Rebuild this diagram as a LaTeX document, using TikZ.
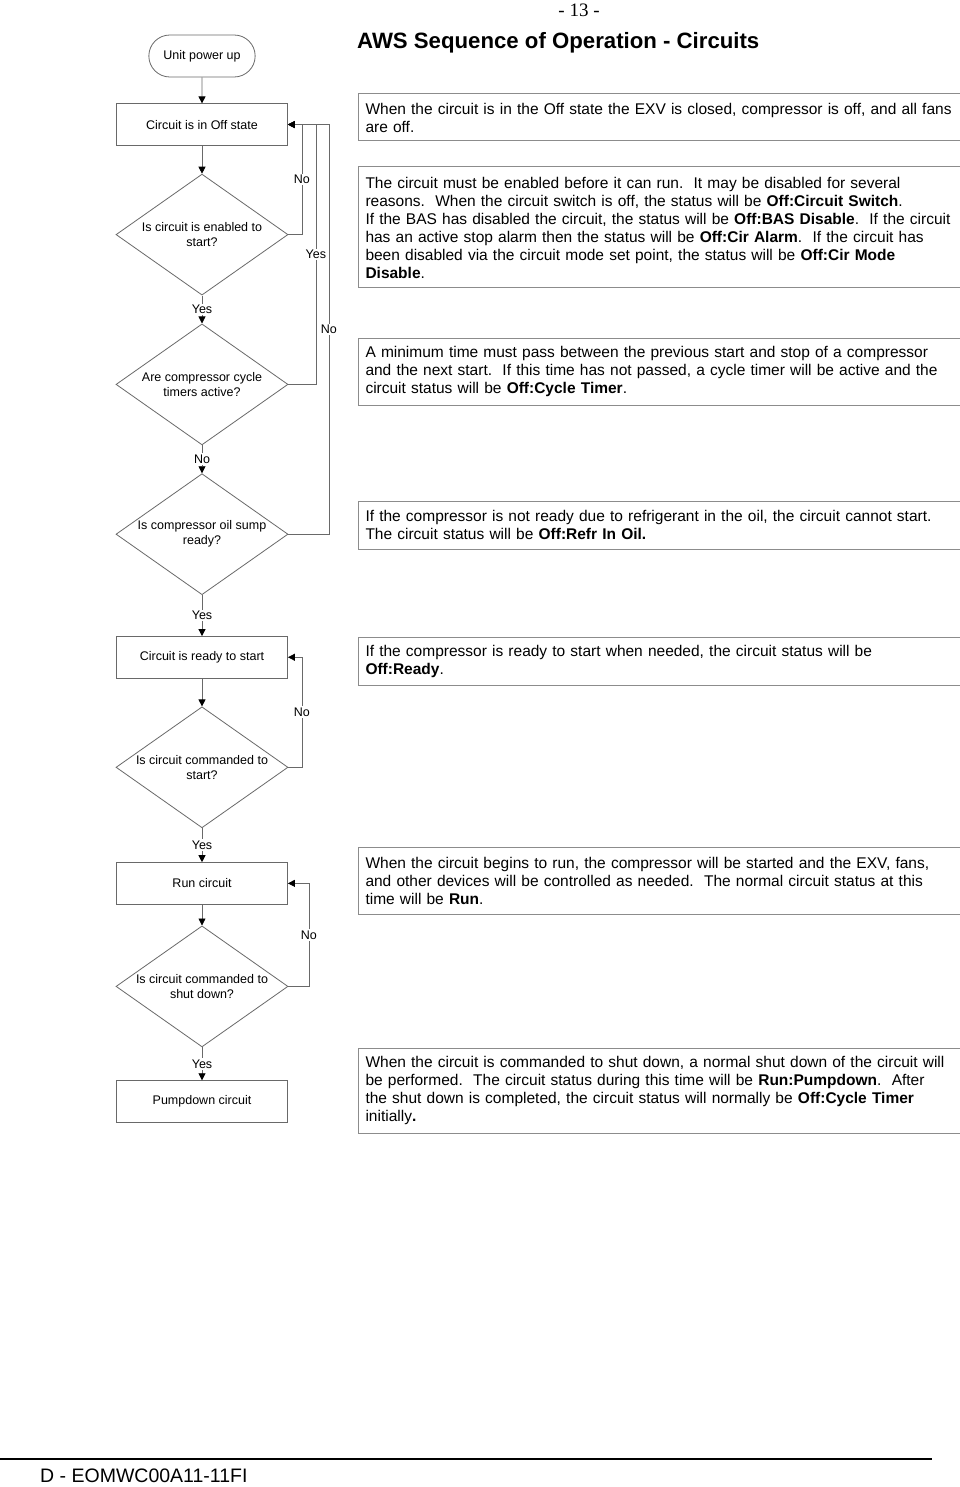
\documentclass[tikz,border=0pt]{standalone}
\usepackage{fontspec}
\setmainfont{Liberation Sans}
\newfontfamily\pagefont{Liberation Serif}
\usetikzlibrary{shapes.geometric,shapes.misc,arrows.meta,positioning}
\definecolor{linegray}{RGB}{105,105,105}
\definecolor{framegray}{RGB}{140,140,140}

\begin{document}
\begin{tikzpicture}[
  x=1pt, y=-1pt,
  node distance=28pt,
  flowfont/.style={font=\fontsize{12.5}{15}\selectfont},
  term/.style={draw=linegray, line width=0.8pt, rounded rectangle, minimum width=113pt, minimum height=42pt, flowfont},
  box/.style={draw=linegray, line width=0.8pt, minimum width=171pt, minimum height=41.5pt, flowfont},
  dec/.style={draw=linegray, line width=0.8pt, diamond, aspect=1.41, minimum width=172pt, minimum height=121pt, inner sep=-6pt, align=center, flowfont},
  desc/.style={draw=framegray, line width=1pt, anchor=west, text width=600pt, inner xsep=7pt, inner ysep=0pt, align=left, font=\fontsize{15.5}{18}\selectfont},
  lbl/.style={fill=white, inner sep=1.5pt, flowfont},
  arr/.style={draw=linegray, line width=0.8pt, -{Triangle[length=7pt, width=7pt, color=black]}}
]
  \useasboundingbox (0,0) rectangle (960,1487);
  \fill[white] (0,0) rectangle (960,1487);
  \clip (0,0) rectangle (960,1487);

  % page header
  \node[font=\pagefont\fontsize{19}{22}\selectfont] (page) at (579,10) {- 13 -};
  \node[anchor=west, inner sep=0pt, font=\bfseries\fontsize{22.2}{26}\selectfont] (title) at (357,43) {AWS Sequence of Operation - Circuits};

  % flow column
  \node[term] (pwr) at (202,56) {Unit power up};
  \node[box, below=26pt of pwr] (off) {Circuit is in Off state};
  \node[dec, below=of off] (d1) {Is circuit is enabled to\\start?};
  \node[dec, below=of d1] (d2) {Are compressor cycle\\timers active?};
  \node[dec, below=of d2] (d3) {Is compressor oil sump\\ready?};
  \node[box, below=41pt of d3] (rdy) {Circuit is ready to start};
  \node[dec, below=of rdy] (d4) {Is circuit commanded to\\start?};
  \node[box, below=34pt of d4] (run) {Run circuit};
  \node[dec, below=21pt of run] (d5) {Is circuit commanded to\\shut down?};
  \node[box, below=33pt of d5] (pump) {Pumpdown circuit};

  \draw[arr] (pwr) -- (off);
  \draw[arr] (off) -- (d1);
  \draw[arr] (d1) -- node[lbl] {Yes} (d2);
  \draw[arr] (d2) -- node[lbl] {No} (d3);
  \draw[arr] (d3) -- node[lbl] {Yes} (rdy);
  \draw[arr] (rdy) -- (d4);
  \draw[arr] (d4) -- node[lbl] {Yes} (run);
  \draw[arr] (run) -- (d5);
  \draw[arr] (d5) -- node[lbl] {Yes} (pump);

  % loops back
  \draw[arr] (d3.east) -| node[lbl, pos=0.75] {No} ([xshift=41pt]off.east) -- (off.east);
  \draw[arr] (d2.east) -| node[lbl, pos=0.75] {Yes} ([xshift=28pt]off.east) -- (off.east);
  \draw[arr] (d1.east) -| node[lbl, pos=0.75] {No} ([xshift=14pt]off.east) -- (off.east);
  \draw[arr] (d4.east) -| node[lbl, pos=0.75] {No} ([xshift=14pt]rdy.east) -- (rdy.east);
  \draw[arr] (d5.east) -| node[lbl, pos=0.75] {No} ([xshift=21pt]run.east) -- (run.east);

  % notes
  \node[desc, minimum height=47pt] (tOff) at (358,117.5) {When the circuit is in the Off state the EXV is closed, compressor is off, and all fans\\are off.};
  \node[desc, minimum height=121pt] (tEnab) at (358,227.5) {The circuit must be enabled before it can run.\ \ It may be disabled for several\\reasons.\ \ When the circuit switch is off, the status will be \textbf{Off:Circuit Switch}.\\If the BAS has disabled the circuit, the status will be \textbf{Off:BAS Disable}.\ \ If the circuit\\has an active stop alarm then the status will be \textbf{Off:Cir Alarm}.\ \ If the circuit has\\been disabled via the circuit mode set point, the status will be \textbf{Off:Cir Mode}\\\textbf{Disable}.};
  \node[desc, minimum height=67pt] (tCycle) at (358,371.5) {A minimum time must pass between the previous start and stop of a compressor\\and the next start.\ \ If this time has not passed, a cycle timer will be active and the\\circuit status will be \textbf{Off:Cycle Timer}.};
  \node[desc, minimum height=48pt] (tOil) at (358,525) {If the compressor is not ready due to refrigerant in the oil, the circuit cannot start.\\The circuit status will be \textbf{Off:Refr In Oil.}};
  \node[desc, minimum height=48pt] (tRdy) at (358,661) {If the compressor is ready to start when needed, the circuit status will be\\\textbf{Off:Ready}.};
  \node[desc, minimum height=67pt] (tRun) at (358,880.5) {When the circuit begins to run, the compressor will be started and the EXV, fans,\\and other devices will be controlled as needed.\ \ The normal circuit status at this\\time will be \textbf{Run}.};
  \node[desc, minimum height=85pt] (tPump) at (358,1090.5) {When the circuit is commanded to shut down, a normal shut down of the circuit will\\be performed.\ \ The circuit status during this time will be \textbf{Run:Pumpdown}.\ \ After\\the shut down is completed, the circuit status will normally be \textbf{Off:Cycle Timer}\\initially\textbf{.}};

  % footer
  \coordinate (fl) at (0,1459);
  \coordinate (fr) at (932,1459);
  \draw[line width=1.2pt] (fl) -- (fr);
  \node[anchor=west, inner sep=0pt, font=\fontsize{19.5}{22}\selectfont] (foot) at (40,1476) {D - EOMWC00A11-11FI};
\end{tikzpicture}
\end{document}
